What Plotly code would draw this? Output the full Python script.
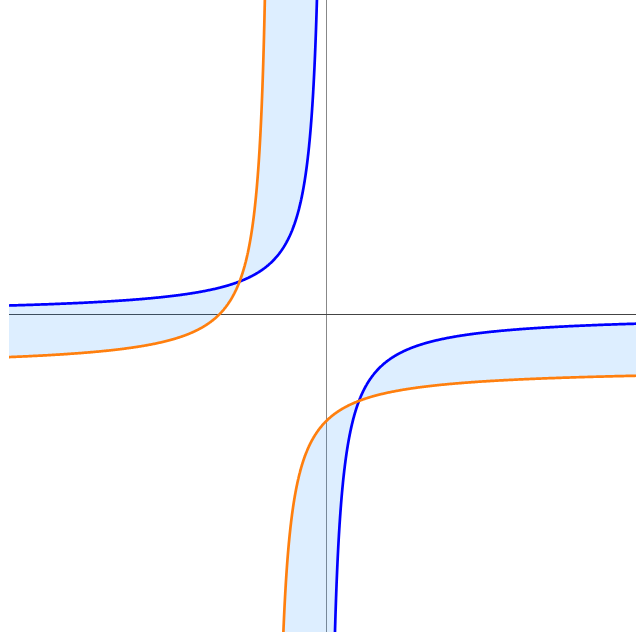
import numpy as np
import plotly.graph_objects as go

# Two hyperbolas y = -1/(x - h) + v ; the second is the first moved by (-1, -1)
curve_names = ["f", "g"]
h_shift = [0.0, -1.0]
v_shift = [0.0, -1.0]
line_colors = ["#0000ff", "#ff7f0e"]

x_range = [-5.936, 5.805]
y_range = [-5.946, 5.89]

# distances from the vertical asymptote, log spaced so both the flat and steep parts are smooth
dist = np.logspace(np.log10(0.015), np.log10(14.0), 1500)


def branches(h, v):
    # left branch (x < h) rises to +inf, right branch (x > h) falls to -inf
    xl = h - dist[::-1]
    yl = v + 1.0 / dist[::-1]
    xr = h + dist
    yr = v - 1.0 / dist
    return (xl, yl), (xr, yr)


b_left, b_right = branches(h_shift[0], v_shift[0])
o_left, o_right = branches(h_shift[1], v_shift[1])

fig = go.Figure()

fill_color = "rgba(30,144,255,0.15)"
# band between the upper-left branches
fig.add_trace(go.Scatter(
    x=np.concatenate([b_left[0], o_left[0][::-1]]),
    y=np.concatenate([b_left[1], o_left[1][::-1]]),
    mode="lines", fill="toself", fillcolor=fill_color,
    line=dict(width=0, simplify=False), hoverinfo="skip", showlegend=False))
# band between the lower-right branches
fig.add_trace(go.Scatter(
    x=np.concatenate([b_right[0], o_right[0][::-1]]),
    y=np.concatenate([b_right[1], o_right[1][::-1]]),
    mode="lines", fill="toself", fillcolor=fill_color,
    line=dict(width=0, simplify=False), hoverinfo="skip", showlegend=False))

for i, (lb, rb) in enumerate([(b_left, b_right), (o_left, o_right)]):
    xs = np.concatenate([lb[0], [None], rb[0]])
    ys = np.concatenate([lb[1], [None], rb[1]])
    fig.add_trace(go.Scatter(
        x=xs, y=ys, mode="lines", name=curve_names[i],
        line=dict(color=line_colors[i], width=2.7, simplify=False),
        connectgaps=False, showlegend=False))

fig.update_layout(
    width=636, height=638,
    margin=dict(l=9, r=0, t=0, b=6, pad=0),
    paper_bgcolor="white", plot_bgcolor="white",
    showlegend=False,
)
fig.update_xaxes(range=x_range, showgrid=False, showticklabels=False, ticks="",
                 zeroline=True, zerolinecolor="#888888", zerolinewidth=1,
                 showline=False)
fig.update_yaxes(range=y_range, showgrid=False, showticklabels=False, ticks="",
                 zeroline=True, zerolinecolor="#444444", zerolinewidth=1,
                 showline=False)

fig.write_html("out.html")
